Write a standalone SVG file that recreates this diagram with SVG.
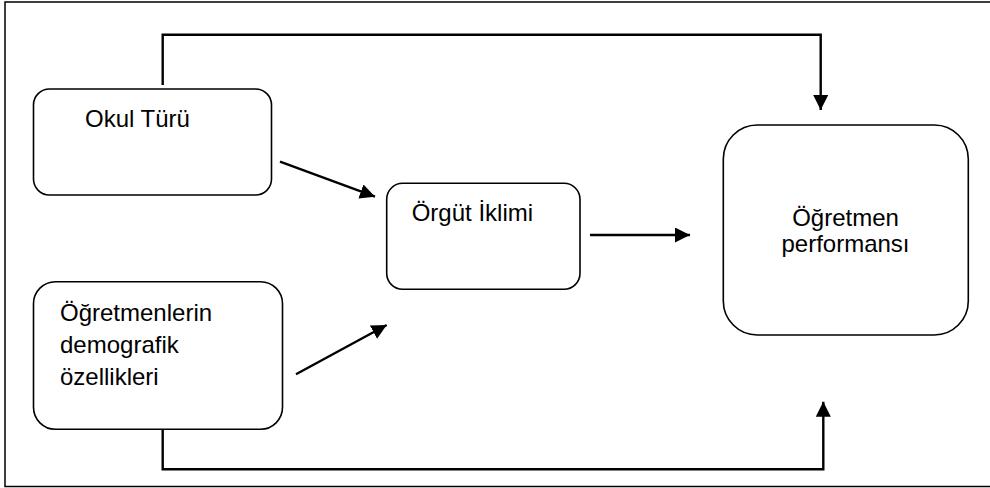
<svg xmlns="http://www.w3.org/2000/svg" width="990" height="488" viewBox="0 0 990 488">
<style>
.box{fill:#fff;stroke:#000;stroke-width:1.6}
.t{font-family:"Liberation Sans",Arial,sans-serif;font-size:24px;fill:#000}
.c{fill:none;stroke:#000;stroke-width:2.4}
</style>
<defs>
<marker id="ah" viewBox="0 0 15 15" refX="15" refY="7.5" markerWidth="15" markerHeight="15" markerUnits="userSpaceOnUse" orient="auto">
<path d="M0,0 L15,7.5 L0,15 Z" fill="#000"/>
</marker>
</defs>
<rect x="0" y="0" width="990" height="488" fill="#fff"/>
<rect x="5" y="2" width="1000" height="484.5" fill="none" stroke="#000" stroke-width="1.5"/>
<g id="connectors">
<path class="c" d="M162.7,85 V34.7 H820.7 V110" marker-end="url(#ah)"/>
<path class="c" d="M162.7,429 V469.3 H823.3 V401.7" marker-end="url(#ah)"/>
<path class="c" d="M280,161.7 L375,196.7" marker-end="url(#ah)"/>
<path class="c" d="M296,374.3 L386.7,325" marker-end="url(#ah)"/>
<path class="c" d="M590,235 L690,235" marker-end="url(#ah)"/>
</g>
<g id="okul">
<rect class="box" x="33.5" y="89" width="238" height="106" rx="16"/>
<text class="t" x="85" y="127">Okul Türü</text>
</g>
<g id="demografik">
<rect class="box" x="33.5" y="281.7" width="249" height="147.6" rx="22"/>
<text class="t" x="60" y="321">Öğretmenlerin</text>
<text class="t" x="60" y="353">demografik</text>
<text class="t" x="60" y="385">özellikleri</text>
</g>
<g id="orgut">
<rect class="box" x="386.7" y="183.3" width="193.3" height="106" rx="16"/>
<text class="t" x="411.7" y="221">Örgüt İklimi</text>
</g>
<g id="performans">
<rect class="box" x="723.3" y="125" width="245" height="210" rx="34"/>
<text class="t" x="845.5" y="226" text-anchor="middle">Öğretmen</text>
<text class="t" x="845.5" y="251.7" text-anchor="middle">performansı</text>
</g>
</svg>
